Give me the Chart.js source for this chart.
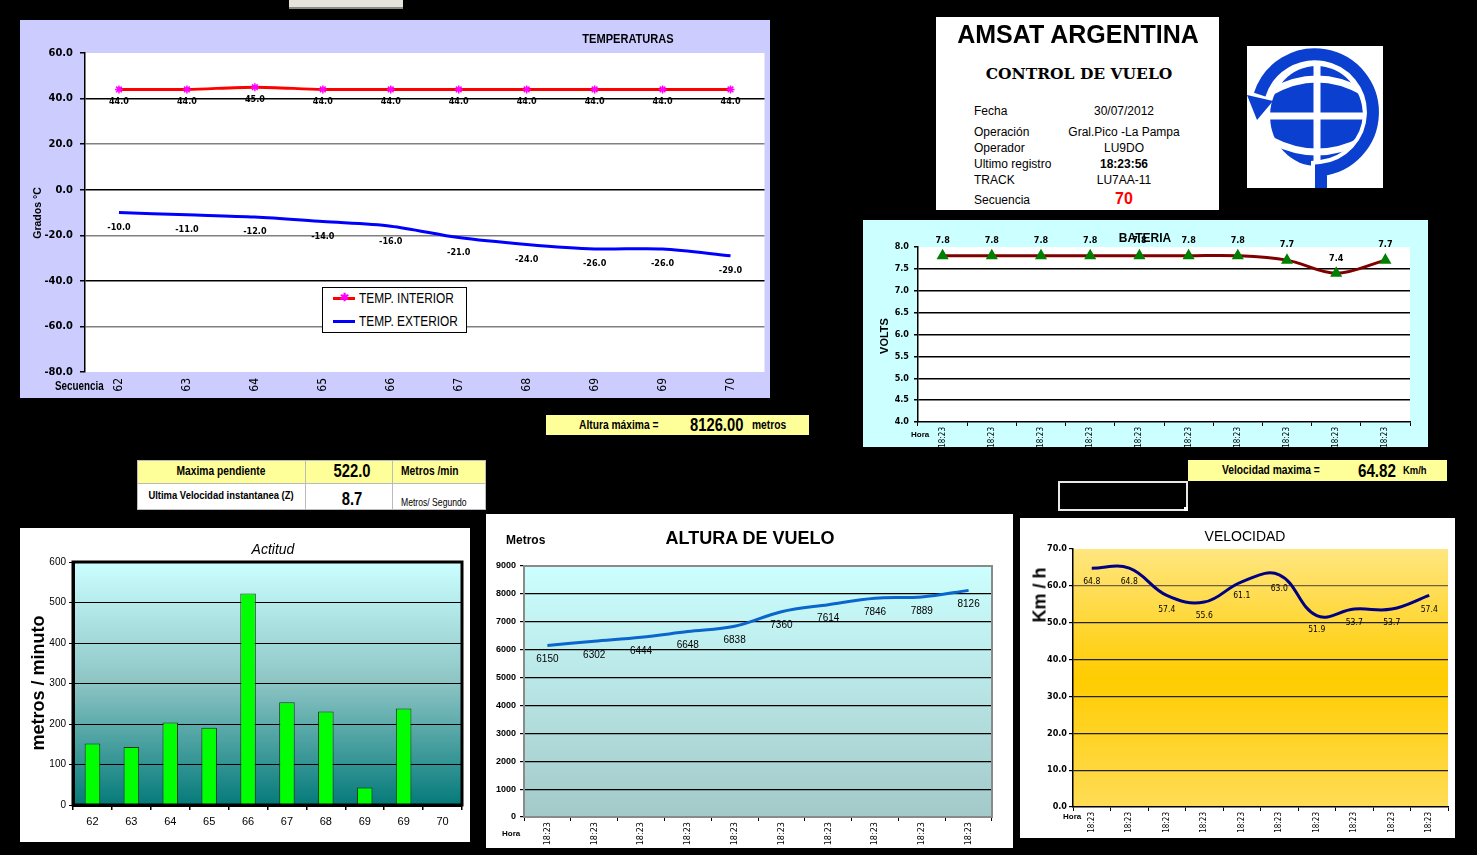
<!DOCTYPE html>
<html>
<head>
<meta charset="utf-8">
<script src="https://cdn.jsdelivr.net/npm/chart.js@4.4.0/dist/chart.umd.min.js"></script>
<style>
  body { margin:0; background:#000; width:1477px; height:855px; overflow:hidden; position:relative; font-family:'Liberation Sans', Arial, sans-serif; }
  .box { position:absolute; }
  .t { position:absolute; white-space:nowrap; color:#000; }
  .c { transform:translate(-50%,-50%); }
  .r { transform:translate(-50%,-50%) rotate(-90deg); }
  .ym { transform:translateY(-50%); }
  /* texto angosto, tipo Arial Narrow */
  .n { font-family:'Liberation Sans', Arial, sans-serif; }
  .n.c { transform:translate(-50%,-50%) scaleX(0.82); }
  .n.ym { transform:translateY(-50%) scaleX(0.82); transform-origin:left center; }
  canvas { position:absolute; left:0; top:0; }
  .cell { position:absolute; border:1px solid #bbb; box-sizing:border-box; }
</style>
</head>
<body>

<!-- paneles -->
<div class="box" style="left:289px;top:0;width:114px;height:7px;background:#e4e4dc;border-bottom:2px solid #8a8a80"></div>
<div class="box" style="left:20px;top:20px;width:750px;height:378px;background:#ccccff"><canvas id="tempChart" width="750" height="378"></canvas></div>
<div class="box" style="left:936px;top:17px;width:283px;height:193px;background:#fff"></div>
<div class="box" style="left:1247px;top:46px;width:136px;height:142px;background:#fff;overflow:hidden">
  <svg width="136" height="142" viewBox="0 0 136 142">
    <ellipse cx="69.5" cy="70" rx="46.5" ry="50" fill="#0a3fd0"/>
    <g stroke="#fff" stroke-width="7" fill="none">
      <line x1="70" y1="18" x2="70" y2="122"/>
      <path d="M24,46 Q70,20 116,46"/>
      <line x1="20" y1="70" x2="120" y2="70"/>
      <path d="M24,94 Q70,118 116,94"/>
    </g>
    <path d="M74,142 L74,124 A58,58 0 1 0 12.7,48.6" stroke="#fff" stroke-width="20" fill="none"/>
    <path d="M74,142 L74,124 A58,58 0 1 0 12.7,48.6" stroke="#0a3fd0" stroke-width="12" fill="none"/>
    <polygon points="0,49 26,55 10,74" fill="#0a3fd0"/>
  </svg>
</div>
<div class="box" style="left:863px;top:220px;width:565px;height:227px;background:#ccffff"><canvas id="batChart" width="565" height="227"></canvas></div>
<div class="box" style="left:546px;top:415px;width:263px;height:20px;background:#ffff99"></div>
<div class="box" style="left:1188px;top:460px;width:259px;height:21px;background:#ffff99"></div>
<div class="box" style="left:1058px;top:481px;width:126px;height:26px;border:2px solid #e8e8e8"></div>
<div class="box" style="left:1184px;top:507px;width:4px;height:4px;background:#fff"></div>

<div class="cell" style="left:137px;top:460px;width:169px;height:24px;background:#ffff99"></div>
<div class="cell" style="left:305px;top:460px;width:88px;height:24px;background:#ffff99"></div>
<div class="cell" style="left:392px;top:460px;width:94px;height:24px;background:#ffff99"></div>
<div class="cell" style="left:137px;top:483px;width:169px;height:27px;background:#fff"></div>
<div class="cell" style="left:305px;top:483px;width:88px;height:27px;background:#fff"></div>
<div class="cell" style="left:392px;top:483px;width:94px;height:27px;background:#fff"></div>

<div class="box" style="left:20px;top:528px;width:450px;height:314px;background:#fff"><canvas id="actChart" width="450" height="314"></canvas></div>
<div class="box" style="left:486px;top:514px;width:527px;height:334px;background:#fff"><canvas id="altChart" width="527" height="334"></canvas></div>
<div class="box" style="left:1020px;top:518px;width:435px;height:320px;background:#fff"><canvas id="velChart" width="435" height="320"></canvas></div>

<!-- textos -->
<div class="t n c" style="left:628px;top:38px;font-size:13.5px;font-weight:bold">TEMPERATURAS</div>
<div class="t r" style="left:37px;top:213px;font-size:10.5px;font-weight:bold">Grados °C</div>
<div class="t n ym" style="left:55px;top:386px;font-size:12px;font-weight:bold">Secuencia</div>
<div class="box" style="left:322px;top:287px;width:143px;height:44px;background:#fff;border:1px solid #000"></div>
<div class="box" style="left:333px;top:297px;width:22px;height:3px;background:#ff0000"></div>
<div class="t c" style="left:344px;top:297px;font-size:11px;color:#ff00ff;font-weight:bold">✱</div>
<div class="t n ym" style="left:359px;top:298px;font-size:14.5px">TEMP. INTERIOR</div>
<div class="box" style="left:333px;top:320px;width:22px;height:3px;background:#0000ff"></div>
<div class="t n ym" style="left:359px;top:321px;font-size:14.5px">TEMP. EXTERIOR</div>

<div class="t c" style="left:1078px;top:34px;font-size:25px;font-weight:bold">AMSAT ARGENTINA</div>
<div class="t c" style="left:1079px;top:73px;font-size:15.5px;font-weight:900;font-family:'DejaVu Serif',serif">CONTROL DE VUELO</div>
<div class="t ym" style="left:974px;top:111px;font-size:12px">Fecha</div>
<div class="t c" style="left:1124px;top:111px;font-size:12px">30/07/2012</div>
<div class="t ym" style="left:974px;top:132px;font-size:12px">Operación</div>
<div class="t c" style="left:1124px;top:132px;font-size:12px">Gral.Pico -La Pampa</div>
<div class="t ym" style="left:974px;top:148px;font-size:12px">Operador</div>
<div class="t c" style="left:1124px;top:148px;font-size:12px">LU9DO</div>
<div class="t ym" style="left:974px;top:164px;font-size:12px">Ultimo registro</div>
<div class="t c" style="left:1124px;top:164px;font-size:12px;font-weight:bold">18:23:56</div>
<div class="t ym" style="left:974px;top:180px;font-size:12px">TRACK</div>
<div class="t c" style="left:1124px;top:180px;font-size:12px">LU7AA-11</div>
<div class="t ym" style="left:974px;top:200px;font-size:12px">Secuencia</div>
<div class="t c" style="left:1124px;top:199px;font-size:16px;font-weight:bold;color:#ff0000">70</div>

<div class="t c" style="left:1145px;top:238px;font-size:12px;font-weight:bold">BATERIA</div>
<div class="t r" style="left:884px;top:336px;font-size:11px;font-weight:bold">VOLTS</div>
<div class="t ym" style="left:911px;top:434px;font-size:8px;font-weight:bold">Hora</div>

<div class="t n ym" style="left:579px;top:425px;font-size:12.5px;font-weight:bold">Altura máxima =</div>
<div class="t n ym" style="left:690px;top:425px;font-size:18px;font-weight:bold">8126.00</div>
<div class="t n ym" style="left:752px;top:425px;font-size:12.5px;font-weight:bold">metros</div>

<div class="t n c" style="left:221px;top:471px;font-size:12.5px;font-weight:bold">Maxima pendiente</div>
<div class="t n c" style="left:352px;top:471px;font-size:18px;font-weight:bold">522.0</div>
<div class="t n ym" style="left:401px;top:471px;font-size:12.5px;font-weight:bold">Metros /min</div>
<div class="t n c" style="left:221px;top:495px;font-size:11.5px;font-weight:bold">Ultima Velocidad instantanea (Z)</div>
<div class="t n c" style="left:352px;top:499px;font-size:18px;font-weight:bold">8.7</div>
<div class="t n ym" style="left:401px;top:502px;font-size:10.5px">Metros/ Segundo</div>

<div class="t n ym" style="left:1222px;top:470px;font-size:12.5px;font-weight:bold">Velocidad maxima =</div>
<div class="t n ym" style="left:1358px;top:471px;font-size:18.5px;font-weight:bold">64.82</div>
<div class="t n ym" style="left:1403px;top:470px;font-size:11.5px;font-weight:bold">Km/h</div>

<div class="t c" style="left:273px;top:549px;font-size:14px;font-style:italic">Actitud</div>
<div class="t r" style="left:38px;top:683px;font-size:18px;font-weight:bold">metros / minuto</div>

<div class="t c" style="left:750px;top:538px;font-size:18px;font-weight:bold">ALTURA DE VUELO</div>
<div class="t ym" style="left:506px;top:540px;font-size:12px;font-weight:bold">Metros</div>
<div class="t ym" style="left:502px;top:833px;font-size:8px;font-weight:bold">Hora</div>

<div class="t c" style="left:1245px;top:536px;font-size:14px">VELOCIDAD</div>
<div class="t r" style="left:1040px;top:595px;font-size:18px;font-weight:bold">Km / h</div>
<div class="t ym" style="left:1063px;top:816px;font-size:8px;font-weight:bold">Hora</div>

<script>
// datos
const secuencia = ['62', '63', '64', '65', '66', '67', '68', '69', '69', '70'];
const hora = ['18:23', '18:23', '18:23', '18:23', '18:23', '18:23', '18:23', '18:23', '18:23', '18:23'];
const tempInterior = [44, 44, 45, 44, 44, 44, 44, 44, 44, 44];
const tempExterior = [-10, -11, -12, -14, -16, -21, -24, -26, -26, -29];
const bateria = [7.8, 7.8, 7.8, 7.8, 7.8, 7.8, 7.8, 7.7, 7.4, 7.7];
const actitud = [152, 143, 204, 191, 522, 254, 231, 43, 238, 0];
const altura = [6150, 6302, 6444, 6648, 6838, 7360, 7614, 7846, 7889, 8126];
const velocidad = [64.8, 64.8, 57.4, 55.6, 61.1, 63.0, 51.9, 53.7, 53.7, 57.4];

const NARROW = "'DejaVu Sans Condensed', 'Liberation Sans', sans-serif";

Chart.defaults.font.family = "'Liberation Sans', Arial, sans-serif";
Chart.defaults.color = '#000';
Chart.defaults.animation = false;
Chart.defaults.events = [];
Chart.defaults.plugins.legend.display = false;
Chart.defaults.plugins.tooltip.enabled = false;

// fondo del area de trazado y marco
function plotFrame(stops, border) {
    return {
        id: 'plotFrame',
        beforeDraw(chart) {
            const a = chart.chartArea, ctx = chart.ctx;
            const g = ctx.createLinearGradient(0, a.top, 0, a.bottom);
            stops.forEach(s => g.addColorStop(s[0], s[1]));
            ctx.save();
            ctx.fillStyle = g;
            ctx.fillRect(a.left, a.top, a.right - a.left, a.bottom - a.top);
            ctx.restore();
        },
        afterDraw(chart) {
            if (!border) return;
            const a = chart.chartArea, ctx = chart.ctx;
            ctx.save();
            ctx.strokeStyle = border.color;
            ctx.lineWidth = border.width;
            ctx.strokeRect(a.left, a.top, a.right - a.left, a.bottom - a.top);
            ctx.restore();
        }
    };
}

// etiquetas de valores
function valueLabels(cfgs) {
    return {
        id: 'valueLabels',
        afterDatasetsDraw(chart) {
            const ctx = chart.ctx;
            cfgs.forEach(cfg => {
                const meta = chart.getDatasetMeta(cfg.ds);
                const data = chart.data.datasets[cfg.ds].data;
                ctx.save();
                ctx.font = cfg.font;
                ctx.fillStyle = cfg.color || '#000';
                ctx.textAlign = 'center';
                ctx.textBaseline = 'middle';
                meta.data.forEach((el, i) => {
                    ctx.fillText(cfg.fmt(data[i]), el.x + (cfg.dx || 0), el.y + cfg.dy);
                });
                ctx.restore();
            });
        }
    };
}

function horaAxis(h, size) {
    return {
        offset: true,
        grid: { offset: true, drawOnChartArea: false, drawTicks: true, tickLength: 4, color: '#000' },
        border: { color: '#000', width: 1.5 },
        ticks: { minRotation: 90, maxRotation: 90, autoSkip: false, padding: 1, color: '#000', font: { size: size, family: NARROW } },
        afterFit(s) { s.height = h; }
    };
}

// TEMPERATURAS
new Chart(document.getElementById('tempChart'), {
    type: 'line',
    data: {
        labels: secuencia,
        datasets: [
            {
                label: 'TEMP. INTERIOR',
                data: tempInterior,
                borderColor: '#ff0000',
                borderWidth: 3,
                pointStyle: 'star',
                pointRadius: 4,
                pointBorderColor: '#ff00ff',
                pointBackgroundColor: '#ff00ff',
                pointBorderWidth: 1.5,
                tension: 0.3
            },
            {
                label: 'TEMP. EXTERIOR',
                data: tempExterior,
                borderColor: '#0000ff',
                borderWidth: 3,
                pointRadius: 0,
                tension: 0.3
            }
        ]
    },
    options: {
        responsive: false,
        layout: { padding: { top: 33, right: 5, left: 0, bottom: 0 } },
        scales: {
            x: {
                offset: true,
                grid: { display: false, drawTicks: false },
                border: { display: false },
                ticks: { minRotation: 90, maxRotation: 90, autoSkip: false, padding: 6, color: '#000', font: { size: 12, family: NARROW } },
                afterFit(s) { s.height = 26; }
            },
            y: {
                min: -80,
                max: 60,
                ticks: { stepSize: 20, padding: 7, color: '#000', callback: v => v.toFixed(1), font: { size: 11, weight: 'bold', family: NARROW } },
                grid: {
                    tickLength: 5,
                    tickColor: '#000',
                    lineWidth: 1.5,
                    color: c => {
                        const v = c.tick.value;
                        if (v === 60 || v === -80) return 'rgba(0,0,0,0)';
                        return (v === 40 || v === 0 || v === -40) ? '#000' : '#808080';
                    }
                },
                border: { color: '#000', width: 1.5 },
                afterFit(s) { s.width = 65; }
            }
        }
    },
    plugins: [
        plotFrame([[0, '#ffffff'], [1, '#ffffff']]),
        valueLabels([
            { ds: 0, dy: 12, font: "bold 9px " + NARROW, fmt: v => v.toFixed(1) },
            { ds: 1, dy: 15, font: "bold 9px " + NARROW, fmt: v => v.toFixed(1) }
        ])
    ]
});

// BATERIA
new Chart(document.getElementById('batChart'), {
    type: 'line',
    data: {
        labels: hora,
        datasets: [{
            label: 'BATERIA',
            data: bateria,
            borderColor: '#800000',
            borderWidth: 3,
            pointStyle: 'triangle',
            pointRadius: 4,
            pointBackgroundColor: '#008000',
            pointBorderColor: '#008000',
            tension: 0.35
        }]
    },
    options: {
        responsive: false,
        layout: { padding: { top: 27, right: 18, left: 0, bottom: 0 } },
        scales: {
            x: horaAxis(25, 8),
            y: {
                min: 4,
                max: 8,
                ticks: { stepSize: 0.5, padding: 5, color: '#000', callback: v => v.toFixed(1), font: { size: 9, weight: 'bold', family: NARROW } },
                grid: {
                    tickLength: 4,
                    tickColor: '#000',
                    lineWidth: 1.5,
                    color: c => (c.tick.value === 8 || c.tick.value === 4) ? 'rgba(0,0,0,0)' : '#000'
                },
                border: { color: '#000', width: 1.5 },
                afterFit(s) { s.width = 55; }
            }
        }
    },
    plugins: [
        plotFrame([[0, '#ffffff'], [1, '#ffffff']]),
        valueLabels([{ ds: 0, dy: -15, font: "bold 9px " + NARROW, fmt: v => v.toFixed(1) }])
    ]
});

// Actitud
new Chart(document.getElementById('actChart'), {
    type: 'bar',
    data: {
        labels: secuencia,
        datasets: [{
            label: 'Actitud',
            data: actitud,
            backgroundColor: '#00ff00',
            borderColor: '#1a3a1a',
            borderWidth: 1,
            barPercentage: 0.4,
            categoryPercentage: 1
        }]
    },
    options: {
        responsive: false,
        layout: { padding: { top: 34, right: 8, left: 0, bottom: 0 } },
        scales: {
            x: {
                grid: { offset: true, drawOnChartArea: false, drawTicks: true, tickLength: 5, color: '#000', lineWidth: 1.5 },
                border: { color: '#000', width: 3 },
                ticks: { padding: 5, color: '#000', font: { size: 11 } },
                afterFit(s) { s.height = 37; }
            },
            y: {
                min: 0,
                max: 600,
                ticks: { stepSize: 100, padding: 3, color: '#000', font: { size: 10 } },
                grid: {
                    tickLength: 4,
                    tickColor: '#000',
                    lineWidth: 1,
                    color: c => (c.tick.value === 600 || c.tick.value === 0) ? 'rgba(0,0,0,0)' : '#000'
                },
                border: { color: '#000', width: 3 },
                afterFit(s) { s.width = 53; }
            }
        }
    },
    plugins: [
        plotFrame([[0, '#ccffff'], [0.5, '#8cc4c4'], [1, '#057a7a']], { color: '#000', width: 3 })
    ]
});

// ALTURA DE VUELO
new Chart(document.getElementById('altChart'), {
    type: 'line',
    data: {
        labels: hora,
        datasets: [{
            label: 'Altura',
            data: altura,
            borderColor: '#0a66cc',
            borderWidth: 3,
            pointRadius: 0,
            tension: 0.35
        }]
    },
    options: {
        responsive: false,
        layout: { padding: { top: 52, right: 21, left: 0, bottom: 0 } },
        scales: {
            x: horaAxis(31, 9),
            y: {
                min: 0,
                max: 9000,
                ticks: { stepSize: 1000, padding: 4, color: '#000', callback: v => String(v), font: { size: 9, weight: 'bold' } },
                grid: {
                    tickLength: 4,
                    tickColor: '#000',
                    lineWidth: 1.2,
                    color: c => (c.tick.value === 9000 || c.tick.value === 0) ? 'rgba(0,0,0,0)' : '#000'
                },
                border: { color: '#333', width: 1.5 },
                afterFit(s) { s.width = 38; }
            }
        }
    },
    plugins: [
        plotFrame([[0, '#ccffff'], [1, '#a3c9c9']], { color: '#8a8a8a', width: 2 }),
        valueLabels([{ ds: 0, dy: 14, font: "10px 'Liberation Sans', Arial", fmt: v => String(v) }])
    ]
});

// VELOCIDAD
new Chart(document.getElementById('velChart'), {
    type: 'line',
    data: {
        labels: hora,
        datasets: [{
            label: 'Velocidad',
            data: velocidad,
            borderColor: '#000080',
            borderWidth: 3,
            pointRadius: 0,
            tension: 0.4
        }]
    },
    options: {
        responsive: false,
        layout: { padding: { top: 31, right: 7, left: 0, bottom: 0 } },
        scales: {
            x: horaAxis(31, 8),
            y: {
                min: 0,
                max: 70,
                ticks: { stepSize: 10, padding: 2, color: '#000', callback: v => v.toFixed(1), font: { size: 9, weight: 'bold', family: NARROW } },
                grid: {
                    tickLength: 4,
                    tickColor: '#000',
                    lineWidth: 1.2,
                    color: c => {
                        const v = c.tick.value;
                        if (v === 70 || v === 0) return 'rgba(0,0,0,0)';
                        return v === 60 ? '#6e6040' : '#222';
                    }
                },
                border: { color: '#000', width: 1.5 },
                afterFit(s) { s.width = 53; }
            }
        }
    },
    plugins: [
        plotFrame([[0, '#ffe680'], [0.5, '#ffcc00'], [1, '#ffdc55']]),
        valueLabels([{ ds: 0, dy: 14, font: "8.5px " + NARROW, fmt: v => v.toFixed(1) }])
    ]
});
</script>
</body>
</html>
